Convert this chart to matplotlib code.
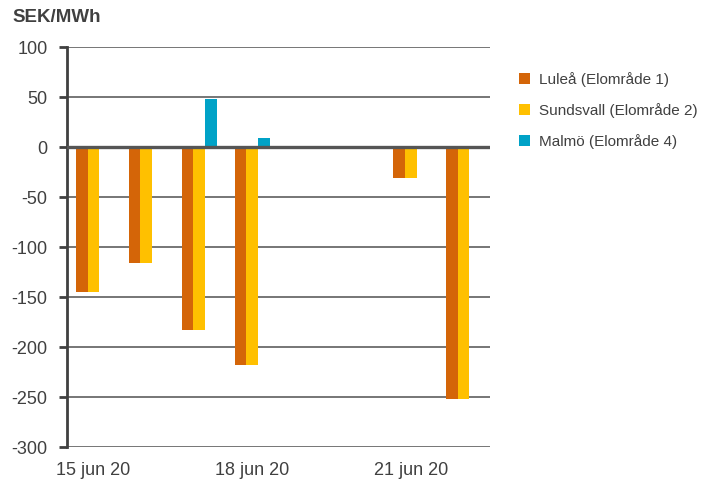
import matplotlib.pyplot as plt
import numpy as np

plt.rcParams['font.family'] = ['Liberation Sans', 'DejaVu Sans']

days = ['15 jun 20', '16 jun 20', '17 jun 20', '18 jun 20',
        '19 jun 20', '20 jun 20', '21 jun 20', '22 jun 20']
lulea = [-145, -116, -183, -218, 0, 0, -31, -252]
sundsvall = [-145, -116, -183, -218, 0, 0, -31, -252]
malmo = [0, 0, 48, 9, 0, 0, 0, 0]
series = [('Luleå (Elområde 1)', lulea, '#d46508'),
          ('Sundsvall (Elområde 2)', sundsvall, '#ffc000'),
          ('Malmö (Elområde 4)', malmo, '#00a2c7')]

fig = plt.figure(figsize=(7.08, 4.82), dpi=100)
ax = fig.add_axes([67/708, 1-447/482, 423/708, 400/482])

x = np.arange(len(days))
w = 0.22
for i, (name, vals, col) in enumerate(series):
    ax.bar(x + (i-1)*w, vals, width=w, color=col, label=name, zorder=3)

ax.set_xlim(-0.5, len(days)-0.5)
ax.set_ylim(-300, 100)
ax.set_yticks(range(-300, 101, 50))
ax.yaxis.grid(True, color='#5f5f5f', linewidth=1.2, zorder=0)
ax.axhline(0, color='#555555', linewidth=2.4, zorder=4)
ax.set_axisbelow(True)
for s in ['top', 'right', 'bottom']:
    ax.spines[s].set_visible(False)
ax.spines['left'].set_color('#404040')
ax.spines['left'].set_linewidth(2)
ax.tick_params(axis='y', direction='out', length=6, width=2, color='#404040',
               labelsize=13, labelcolor='#404040', pad=8)
ax.set_xticks([0, 3, 6])
ax.set_xticklabels([days[0], days[3], days[6]])
ax.tick_params(axis='x', length=0, labelsize=13, labelcolor='#404040', pad=11)
ax.set_yticklabels([str(v) for v in range(-300, 101, 50)])

fig.text(12/708, 1-18/482, 'SEK/MWh', fontsize=13.5, fontweight='bold',
         color='#404040', va='center', ha='left')

ax.legend(loc='upper left', bbox_to_anchor=(505/708, 1-58/482),
          bbox_transform=fig.transFigure, frameon=False, fontsize=11,
          handlelength=0.75, handleheight=0.75, handletextpad=0.6,
          labelspacing=1.05, labelcolor='#404040')

fig.savefig('out.png', dpi=100)
